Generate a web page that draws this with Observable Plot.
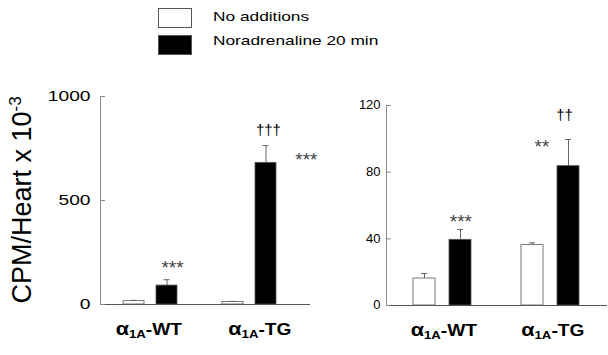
<!DOCTYPE html>
<html><head><meta charset="utf-8">
<script src="https://cdn.jsdelivr.net/npm/d3@7"></script>
<script src="https://cdn.jsdelivr.net/npm/@observablehq/plot@0.6"></script>
<style>
html,body{margin:0;padding:0;background:#fff;}
#chart{position:relative;width:608px;height:355px;overflow:hidden;font-family:"Liberation Sans",Arial,sans-serif;background:#fff;}
#chart svg{position:absolute;top:0;}
.legend-box{position:absolute;box-sizing:border-box;width:34px;height:20px;border:1px solid #555;}
.legend-text{position:absolute;font-size:13px;line-height:15px;transform-origin:left center;transform:scaleX(1.33);white-space:nowrap;color:#000;}
#ylabel{position:absolute;left:22px;top:200px;transform:translate(-50%,-50%) rotate(-90deg);font-size:27px;white-space:nowrap;color:#000;}
#ylabel sup{font-size:17px;vertical-align:10px;line-height:0;}
</style></head>
<body><div id="chart"></div>
<script>
// ---- data ----
const groups = ["α1A-WT", "α1A-TG"];
const conditions = ["No additions", "Noradrenaline 20 min"];
const leftMeans = [[16, 91], [12, 681]];
const leftErrors = [[4, 28], [3, 83]];
const rightMeans = [[16.2, 39.4], [36.2, 83.6]];
const rightErrors = [[3, 6.2], [1.4, 16]];
const leftTicks = [0, 500, 1000];
const rightTicks = [0, 40, 80, 120];
const yLabelBase = "CPM/Heart x 10";
const yLabelExp = "-3";
const leftNotes = [
  {group: 0, cond: 1, label: "***"},
  {group: 1, cond: 1, label: "†††"},
  {group: 1, cond: 1, label: "***"}
];
const rightNotes = [
  {group: 0, cond: 1, label: "***"},
  {group: 1, cond: 1, label: "**"},
  {group: 1, cond: 1, label: "††"}
];

// ---- styles ----
const leftNoteOffsets = [[5.5, -11.7], [2.4, -15.5], [40.4, 14.7]];
const rightNoteOffsets = [[0.4, -7.4], [-26.6, 7.6], [-3.9, -24.5]];
const leftLabelShift = [-2, 10];
const rightLabelShift = [1, 2];

const key = (g, c) => `${g}|${c}`;
const xDomain = [key(0,0), key(0,1), "gap", key(1,0), key(1,1)];

function panel(cfg) {
  const {means, errors, notes, noteOffsets, ticks, yDomain, width, marginLeft, marginRight,
         marginTop, marginBottom, paddingInner, paddingOuter, align, tickFont, tickPadding,
         labelShift} = cfg;
  const rows = [];
  groups.forEach((g, gi) => conditions.forEach((c, ci) =>
    rows.push({key: key(gi, ci), cond: c, value: means[gi][ci], top: means[gi][ci] + errors[gi][ci]})));
  const xOpts = {type: "band", domain: xDomain, range: [marginLeft, width - marginRight], paddingInner, paddingOuter, align};
  const xs = Plot.scale({x: xOpts});
  const bw = xs.bandwidth, step = xs.step;
  const capInset = (bw - 6) / 2;
  const noteMarks = notes.map((n, i) => {
    const r = rows.find(d => d.key === key(n.group, n.cond));
    const dagger = n.label.includes("†");
    return Plot.text([r], {x: "key", y: "top", text: () => n.label, dx: noteOffsets[i][0], dy: noteOffsets[i][1],
      fontSize: dagger ? 15 : 19, fill: dagger ? "#000" : "#444",
      letterSpacing: dagger ? 3.2 : 1.5});
  });
  const labelMarks = groups.map((g, gi) => Plot.text([g], {x: () => key(gi, 0), text: d => d, frameAnchor: "bottom",
    dy: 30, dx: step / 2 + labelShift[gi], fontSize: 16, fontWeight: "bold", fill: "#000"}));
  return Plot.plot({
    width, height: 355, marginLeft, marginRight, marginTop, marginBottom,
    style: {fontFamily: "Liberation Sans, Arial, sans-serif", background: "transparent", overflow: "visible", color: "#000"},
    x: {...xOpts, axis: null},
    y: {domain: yDomain, label: null},
    color: {domain: conditions, range: ["#ffffff", "#000000"]},
    marks: [
      Plot.ruleX(rows, {x: "key", y1: "value", y2: "top", stroke: "#666", strokeWidth: 1}),
      Plot.tickY(rows, {x: "key", y: "top", stroke: "#666", strokeWidth: 1, insetLeft: capInset, insetRight: capInset}),
      Plot.barY(rows, {x: "key", y: "value", fill: "cond", stroke: "#555", strokeWidth: 0.8}),
      Plot.frame({anchor: "left", stroke: "#888"}),
      Plot.ruleY([0], {stroke: "#555"}),
      Plot.axisY({ticks, tickSize: -5, tickPadding, fontSize: tickFont, stroke: "#888", fill: "#000", label: null,
        tickFormat: d => String(d)}),
      ...noteMarks,
      ...labelMarks
    ]
  });
}

const chart = document.getElementById("chart");
const left = panel({means: leftMeans, errors: leftErrors, notes: leftNotes, noteOffsets: leftNoteOffsets,
  ticks: leftTicks, yDomain: [0, 1000], width: 320, marginLeft: 100, marginRight: 10, marginTop: 96, marginBottom: 51,
  paddingInner: 0.378, paddingOuter: 0.8, align: 0.407, tickFont: 15, tickPadding: 15, labelShift: leftLabelShift});
const right = panel({means: rightMeans, errors: rightErrors, notes: rightNotes, noteOffsets: rightNoteOffsets,
  ticks: rightTicks, yDomain: [0, 120], width: 288, marginLeft: 66, marginRight: 1, marginTop: 105, marginBottom: 50,
  paddingInner: 0.4, paddingOuter: 0.715, align: 0.49, tickFont: 12, tickPadding: 11, labelShift: rightLabelShift});
left.style.left = "0px";
right.style.left = "320px";
chart.appendChild(left);
chart.appendChild(right);

// legend
const legendItems = [{fill: "#fff", top: 8, textTop: 9}, {fill: "#000", top: 35, textTop: 33}];
conditions.forEach((c, i) => {
  const box = document.createElement("div");
  box.className = "legend-box";
  box.style.left = "158px"; box.style.top = legendItems[i].top + "px";
  box.style.background = legendItems[i].fill;
  chart.appendChild(box);
  const t = document.createElement("div");
  t.className = "legend-text";
  t.style.left = "213px"; t.style.top = legendItems[i].textTop + "px";
  t.textContent = c;
  chart.appendChild(t);
});

// y label
const yl = document.createElement("div");
yl.id = "ylabel";
yl.append(yLabelBase);
const sup = document.createElement("sup");
sup.textContent = yLabelExp;
yl.append(sup);
chart.appendChild(yl);

// subscripts in group labels, and horizontal stretch of texts
const SVGNS = "http://www.w3.org/2000/svg";
function stretch(el, f) {
  const w = el.getComputedTextLength();
  el.setAttribute("textLength", (w * f).toFixed(1));
  el.setAttribute("lengthAdjust", "spacingAndGlyphs");
}
[left, right].forEach((svg, si) => {
  svg.querySelectorAll("text").forEach(t => {
    const s = t.textContent;
    if (!groups.includes(s)) return;
    t.textContent = "";
    const a = document.createElementNS(SVGNS, "tspan"); a.textContent = s[0]; a.setAttribute("font-size", "18");
    const b = document.createElementNS(SVGNS, "tspan"); b.textContent = s.slice(1, 3); b.setAttribute("font-size", "11"); b.setAttribute("dy", "3");
    const c = document.createElementNS(SVGNS, "tspan"); c.textContent = s.slice(3); c.setAttribute("dy", "-3");
    t.append(a, b, c);
    stretch(t, 1.2);
  });
  svg.querySelectorAll('g[aria-label="y-axis tick label"] text').forEach(t => stretch(t, si === 0 ? 1.28 : 1.08));
});
</script>
</body></html>
